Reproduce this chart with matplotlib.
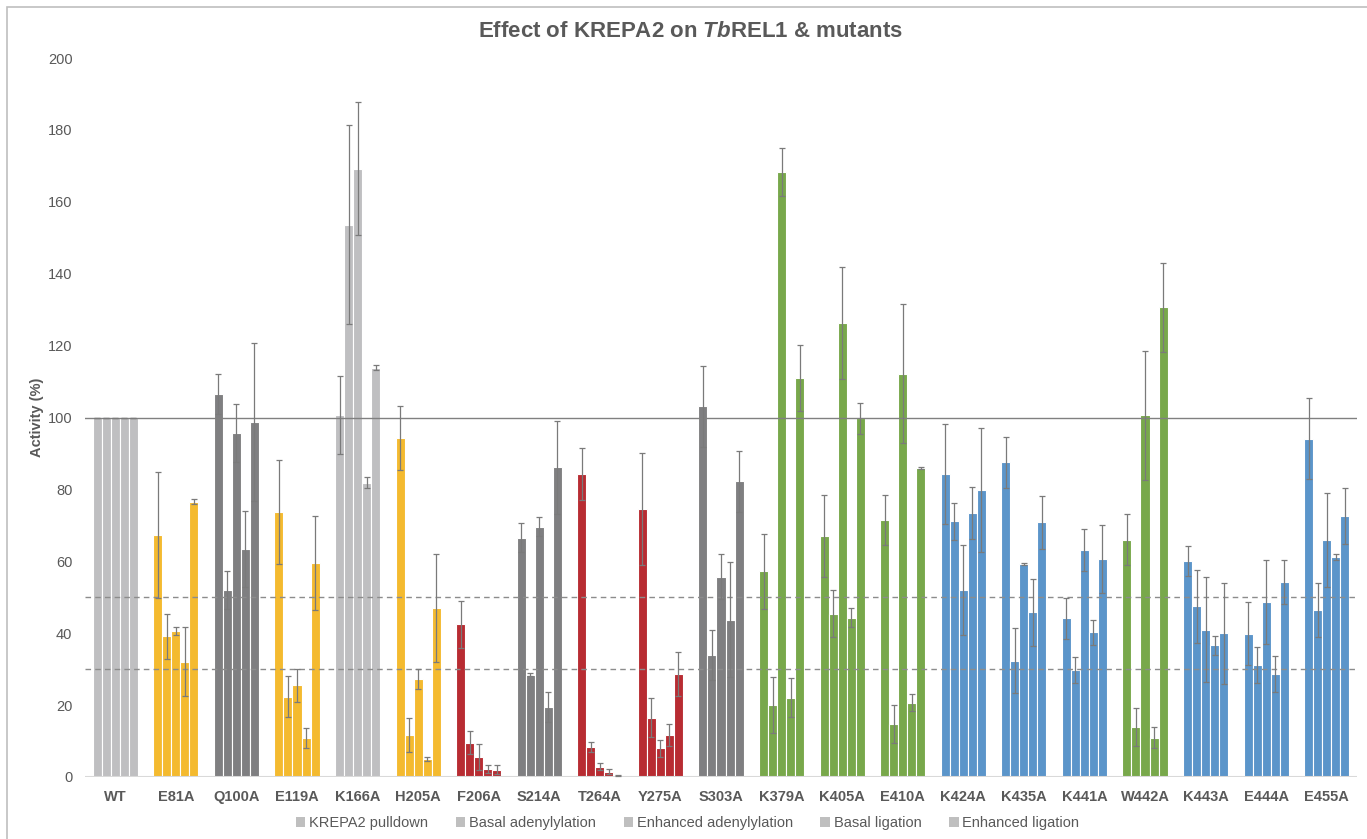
import matplotlib
matplotlib.use("Agg")
import matplotlib.pyplot as plt
import matplotlib.patches as mpatches
import numpy as np

# ── Fonts / colours ──────────────────────────────────────────────
plt.rcParams["font.family"] = ["Liberation Sans", "DejaVu Sans"]
plt.rcParams["mathtext.fontset"] = "custom"
plt.rcParams["mathtext.it"] = "Liberation Sans:italic:bold"
plt.rcParams["mathtext.rm"] = "Liberation Sans:bold"

TXT = "#595959"
C = {
    "lgray":  "#BFBFC1",
    "yellow": "#F4BA2F",
    "dgray":  "#7F7F81",
    "red":    "#B82C32",
    "green":  "#78A84B",
    "blue":   "#5B95CA",
}

# ── Data ─────────────────────────────────────────────────────────
mutants = ["WT", "E81A", "Q100A", "E119A", "K166A", "H205A", "F206A",
           "S214A", "T264A", "Y275A", "S303A", "K379A", "K405A", "E410A",
           "K424A", "K435A", "K441A", "W442A", "K443A", "E444A", "E455A"]

group_color = ["lgray", "yellow", "dgray", "yellow", "lgray", "yellow", "red",
               "dgray", "red", "red", "dgray", "green", "green", "green",
               "blue", "blue", "blue", "green", "blue", "blue", "blue"]

series_names = ["KREPA2 pulldown", "Basal adenylylation",
                "Enhanced adenylylation", "Basal ligation", "Enhanced ligation"]

pulldown = [100, 67.4, 106.5, 73.8, 100.7, 94.2, 42.5, 66.6, 84.3, 74.6, 103.1,
            57.2, 67.0, 71.5, 84.4, 87.6, 44.1, 66.0, 60.1, 39.9, 94.1]
pulldown_err = [0, 17.5, 5.5, 14.5, 10.9, 8.9, 6.5, 4.0, 7.3, 15.6, 11.3,
                10.4, 11.4, 7.0, 13.9, 7.1, 5.7, 7.1, 4.1, 8.8, 11.2]

basal_aden = [100, 39.1, 52.0, 22.3, 153.6, 11.7, 9.5, 28.5, 8.3, 16.5, 33.9,
              20.0, 45.4, 14.8, 71.1, 32.4, 29.8, 13.9, 47.5, 31.2, 46.4]
basal_aden_err = [0, 6.2, 5.3, 5.7, 27.7, 4.7, 3.2, 0.4, 1.3, 5.5, 7.0,
                  7.7, 6.5, 5.3, 5.2, 9.0, 3.7, 5.3, 10.2, 5.1, 7.5]

enh_aden = [100, 40.6, 95.7, 25.5, 169.2, 27.3, 5.6, 69.6, 2.9, 8.0, 55.7,
            168.3, 126.4, 112.2, 52.0, 59.3, 63.1, 100.6, 41.0, 48.7, 66.0]
enh_aden_err = [0, 1.2, 8.0, 4.5, 18.5, 2.7, 3.7, 2.7, 1.0, 2.3, 6.3,
                6.8, 15.6, 19.4, 12.6, 0.2, 5.8, 18.0, 14.6, 11.7, 13.1]

basal_lig = [100, 32.1, 63.5, 10.9, 81.9, 5.1, 2.2, 19.5, 1.4, 11.6, 43.8,
             22.1, 44.3, 20.7, 73.4, 45.8, 40.2, 10.9, 36.6, 28.6, 61.2]
basal_lig_err = [0, 9.5, 10.6, 2.7, 1.5, 0.6, 1.2, 4.1, 0.7, 3.1, 16.0,
                 5.3, 2.6, 2.3, 7.3, 9.4, 3.6, 2.9, 2.6, 5.0, 0.7]

enh_lig = [100, 76.6, 98.7, 59.5, 113.9, 47.0, 2.0, 86.1, 0.4, 28.6, 82.2,
           111.0, 99.8, 85.9, 79.9, 70.8, 60.7, 130.7, 40.0, 54.2, 72.6]
enh_lig_err = [0, 0.6, 22.0, 13.0, 0.6, 15.0, 1.2, 12.9, 0.2, 6.2, 8.6,
               9.2, 4.3, 0.3, 17.3, 7.3, 9.4, 12.4, 14.0, 6.2, 7.9]

ref_lines = [50, 30]

series = [pulldown, basal_aden, enh_aden, basal_lig, enh_lig]
errors = [pulldown_err, basal_aden_err, enh_aden_err, basal_lig_err, enh_lig_err]

# ── Figure ───────────────────────────────────────────────────────
fig = plt.figure(figsize=(13.67, 8.39), dpi=100, facecolor="white")
ax = fig.add_axes([85 / 1367, 62 / 839, 1272 / 1367, 719 / 839])

x = np.arange(len(mutants))
w = 0.149
bar_colors = [C[g] for g in group_color]

for i, (vals, err) in enumerate(zip(series, errors)):
    ax.bar(x + (i - 2) * w, vals, w, color=bar_colors, edgecolor="white",
           linewidth=0.8, zorder=2,
           yerr=err, error_kw=dict(ecolor="#7A7A7A", elinewidth=0.9,
                                   capsize=2.5, capthick=0.9, zorder=4))

# reference lines
ax.axhline(100, color="#808080", lw=1.0, zorder=3)
for r in ref_lines:
    ax.axhline(r, color="#8C8C8C", lw=1.0, ls=(0, (4, 3)), zorder=3)
ax.axhline(0, color="#D9D9D9", lw=1.5, zorder=3)

ax.set_xlim(-0.5, len(mutants) - 0.5)
ax.set_ylim(0, 200)
ax.set_yticks(np.arange(0, 201, 20))
ax.set_xticks(x)
ax.set_xticklabels(mutants, fontweight="bold", fontsize=10.5, color=TXT)
# baseline-aligned so "Q100A" sits level with the rest
for lab in ax.get_xticklabels():
    lab.set_verticalalignment("baseline")
ax.tick_params(axis="y", length=0, pad=9, labelsize=10.5, labelcolor=TXT)
ax.tick_params(axis="x", length=0, pad=17)
for s in ax.spines.values():
    s.set_visible(False)

ax.set_ylabel("Activity (%)", fontsize=10.5, fontweight="bold", color=TXT)
ax.yaxis.set_label_coords(-0.032, 0.5)

fig.text(0.505, 0.963, r"Effect of KREPA2 on $Tb$REL1 & mutants",
         fontsize=16, fontweight="bold", color=TXT, ha="center", va="center")

handles = [mpatches.Patch(facecolor="#BFBFBF", edgecolor="none", label=n)
           for n in series_names]
fig.legend(handles=handles, loc="center", bbox_to_anchor=(0.503, 0.019),
           ncol=5, frameon=False, fontsize=10.5, labelcolor=TXT,
           handlelength=0.65, handleheight=0.65, handletextpad=0.25,
           columnspacing=1.9)

# chart-area border (only left / top visible in the crop)
fig.add_artist(mpatches.Rectangle((7 / 1367, -0.1), 1.2, 1.1 - 7 / 839,
                                  transform=fig.transFigure, fill=False,
                                  edgecolor="#BFBFBF", lw=1.2))

plt.savefig("out.png", dpi=100, facecolor="white")
